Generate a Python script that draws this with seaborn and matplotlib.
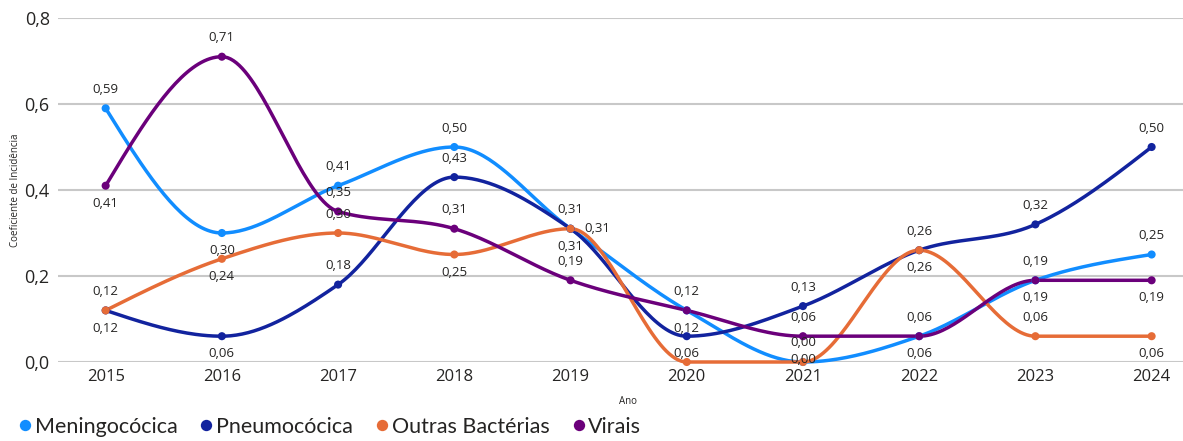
import numpy as np
import pandas as pd
import matplotlib
matplotlib.use("Agg")
import matplotlib.pyplot as plt
import seaborn as sns

# data
anos = [2015, 2016, 2017, 2018, 2019, 2020, 2021, 2022, 2023, 2024]
meningococica = [0.59, 0.30, 0.41, 0.50, 0.31, 0.12, 0.00, 0.06, 0.19, 0.25]
pneumococica = [0.12, 0.06, 0.18, 0.43, 0.31, 0.06, 0.13, 0.26, 0.32, 0.50]
outras_bacterias = [0.12, 0.24, 0.30, 0.25, 0.31, 0.00, 0.00, 0.26, 0.06, 0.06]
virais = [0.41, 0.71, 0.35, 0.31, 0.19, 0.12, 0.06, 0.06, 0.19, 0.19]

series_names = ["Meningocócica", "Pneumocócica", "Outras Bactérias", "Virais"]
series_values = [meningococica, pneumococica, outras_bacterias, virais]
colors = ["#118DFF", "#12239E", "#E66C37", "#6B007B"]

# where each data label sits: a = above, b = below, r = right, c = on the point, "" = hidden
label_pos = {
    "Meningocócica":    ["a", "b", "a", "a", "a", "b", "c", "b", "b", "a"],
    "Pneumocócica":     ["b", "b", "a", "a", "b", "b", "a", "b", "a", "a"],
    "Outras Bactérias": ["a", "b", "a", "b", "r", "", "a", "a", "a", "b"],
    "Virais":           ["b", "a", "a", "a", "a", "a", "a", "a", "a", "b"],
}


def monotone_curve(x, y, n=40):
    # monotone cubic (same idea as d3 curveMonotoneX)
    x = np.asarray(x, float)
    y = np.asarray(y, float)
    h = np.diff(x)
    s = np.diff(y) / h
    t = np.zeros_like(y)
    for i in range(1, len(y) - 1):
        p = (s[i - 1] * h[i] + s[i] * h[i - 1]) / (h[i - 1] + h[i])
        t[i] = (np.sign(s[i - 1]) + np.sign(s[i])) * min(abs(s[i - 1]), abs(s[i]), 0.5 * abs(p))
    t[0] = (3 * s[0] - t[1]) / 2
    t[-1] = (3 * s[-1] - t[-2]) / 2
    xs, ys = [], []
    for i in range(len(h)):
        u = np.linspace(0, 1, n, endpoint=False)
        h00 = 2 * u**3 - 3 * u**2 + 1
        h10 = u**3 - 2 * u**2 + u
        h01 = -2 * u**3 + 3 * u**2
        h11 = u**3 - u**2
        xs.append(x[i] + u * h[i])
        ys.append(h00 * y[i] + h10 * h[i] * t[i] + h01 * y[i + 1] + h11 * h[i] * t[i + 1])
    xs.append([x[-1]])
    ys.append([y[-1]])
    return np.concatenate(xs), np.concatenate(ys)


pos = np.arange(len(anos))
points = pd.concat(
    [pd.DataFrame({"pos": pos, "valor": v, "serie": name}) for name, v in zip(series_names, series_values)],
    ignore_index=True,
)
curves = []
for name, v in zip(series_names, series_values):
    cx, cy = monotone_curve(pos, v)
    curves.append(pd.DataFrame({"pos": cx, "valor": cy, "serie": name}))
curves = pd.concat(curves, ignore_index=True)

sns.set_theme(style="white")
plt.rcParams["font.family"] = ["Open Sans", "DejaVu Sans"]

fig = plt.figure(figsize=(11.83, 4.41), dpi=100)
ax = fig.add_axes([58 / 1183, 1 - 362 / 441, (1183 - 58) / 1183, (362 - 18) / 441])

palette = dict(zip(series_names, colors))
sns.lineplot(data=curves, x="pos", y="valor", hue="serie", palette=palette, linewidth=2.5,
             ax=ax, legend=False, estimator=None, sort=False, clip_on=False, zorder=3)
sns.scatterplot(data=points, x="pos", y="valor", hue="serie", palette=palette, s=34,
                edgecolor="none", ax=ax, zorder=4, clip_on=False)

for name, v in zip(series_names, series_values):
    for i, val in enumerate(v):
        p = label_pos[name][i]
        if not p:
            continue
        txt = f"{val:.2f}".replace(".", ",")
        if p == "a":
            off, va, ha = (0, 9), "bottom", "center"
        elif p == "b":
            off, va, ha = (0, -8), "top", "center"
        elif p == "c":
            off, va, ha = (0, 1.5), "center", "center"
        else:
            off, va, ha = (10, 0), "center", "left"
        ax.annotate(txt, (i, val), xytext=off, textcoords="offset points",
                    ha=ha, va=va, fontsize=9.5, color="#252423", zorder=5)

ax.set_xlim(-0.41, 9.27)
ax.set_ylim(0, 0.8)
ax.set_xticks(pos)
ax.set_xticklabels([str(a) for a in anos])
ax.set_yticks([0, 0.2, 0.4, 0.6, 0.8])
ax.set_yticklabels(["0,0", "0,2", "0,4", "0,6", "0,8"])
ax.tick_params(axis="x", labelsize=12, colors="#252423", pad=5, length=0)
ax.tick_params(axis="y", labelsize=13, colors="#252423", pad=6, length=0)
ax.grid(axis="y", color="#C8C8C8", linewidth=1.5)
ax.set_axisbelow(True)
for sp in ax.spines.values():
    sp.set_visible(False)
ax.set_xlabel("")
ax.set_ylabel("")
fig.text(628 / 1183, 1 - 401 / 441, "Ano", fontsize=7, color="#252423", ha="center", va="center")
fig.text(16 / 1183, 1 - 190 / 441, "Coeficiente de Incidência", fontsize=7, color="#252423",
         rotation=90, ha="center", va="center")

handles, labels = ax.get_legend_handles_labels()
if ax.get_legend() is not None:
    ax.get_legend().remove()
leg = fig.legend(handles, labels, loc="lower left", bbox_to_anchor=(-0.008, -0.02), ncol=4,
                 frameon=False, fontsize=15.5, handletextpad=-0.55, columnspacing=0.35,
                 borderaxespad=0.2, markerscale=1.4, prop={"family": "Lato", "size": 15.5})
for t in leg.get_texts():
    t.set_color("#252423")

fig.savefig("out.png", dpi=100)
